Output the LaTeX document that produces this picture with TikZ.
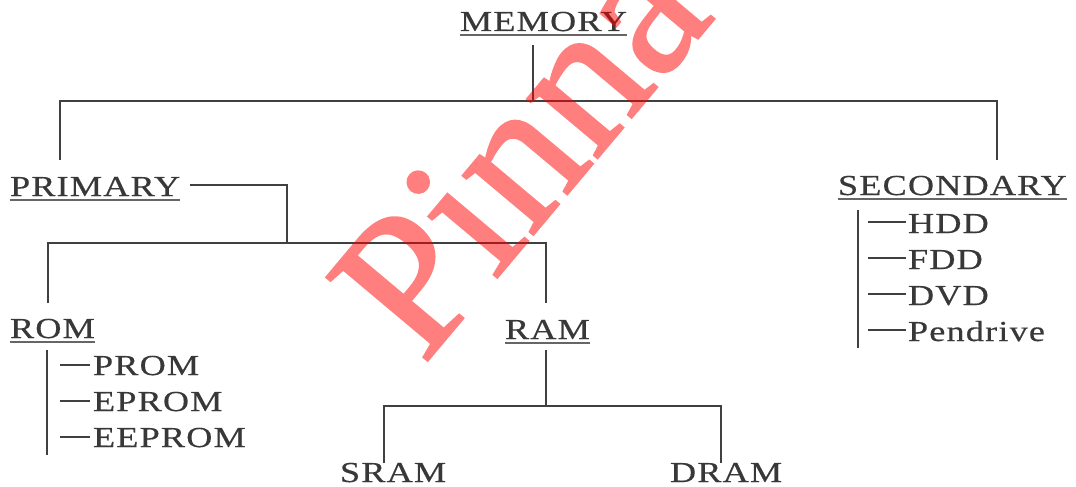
\documentclass[tikz,border=0pt]{standalone}
\usepackage{fontspec}
\setmainfont{Liberation Serif}
\newfontfamily\labelfont[FakeStretch=1.25,LetterSpace=4,FakeBold=0.4]{Liberation Serif}
\newfontfamily\markfont[FakeBold=1.2]{Liberation Serif}
\begin{document}
\begin{tikzpicture}[x=1pt,y=-1pt,
  lbl/.style={anchor=base west,inner sep=0pt,outer sep=0pt,text=black!78,
    font=\labelfont\fontsize{29}{29}\selectfont},
  wire/.style={draw=black!75,line width=1.8pt},
  uline/.style={draw=black!60,line width=1.4pt}]
\useasboundingbox (0,0) rectangle (1076,487);
\clip (0,0) rectangle (1076,487);

% headings (underlined)
\node[lbl] (memory) at (460,31) {MEMORY};
\node[lbl] (primary) at (10,196) {PRIMARY};
\node[lbl] (secondary) at (838,195) {SECONDARY};
\node[lbl] (rom) at (10,338) {ROM};
\node[lbl] (ram) at (505,339) {RAM};
\foreach \n in {memory,primary,secondary,rom,ram}
  \draw[uline] ([yshift=-4pt]\n.base west) -- ([yshift=-4pt]\n.base east);

% leaves
\node[lbl] (sram) at (340,482) {SRAM};
\node[lbl] (dram) at (670,482) {DRAM};
\node[lbl] (prom) at (93,375) {PROM};
\node[lbl] (eprom) at (93,411) {EPROM};
\node[lbl] (eeprom) at (93,447) {EEPROM};
\node[lbl] (hdd) at (908,233) {HDD};
\node[lbl] (fdd) at (908,269) {FDD};
\node[lbl] (dvd) at (908,305) {DVD};
\node[lbl] (pen) at (908,341) {Pendrive};

% junction and end points of the tree
\coordinate (memfoot) at (533,45);
\coordinate (top) at (533,101);
\coordinate (primtop) at (60,160);
\coordinate (sectop) at (997,160);
\coordinate (primout) at (190,185);
\coordinate (pbus) at (287,243);
\coordinate (romtop) at (48,303);
\coordinate (ramtop) at (546,303);
\coordinate (ramfoot) at (546,350);
\coordinate (rbus) at (546,406);
\coordinate (sramtop) at (384,463);
\coordinate (dramtop) at (721,463);

% memory -> primary / secondary
\draw[wire] (memfoot) -- (top);
\draw[wire] (primtop) |- (top) -| (sectop);

% primary -> rom / ram
\draw[wire] (primout) -| (pbus);
\draw[wire] (romtop) |- (pbus) -| (ramtop);

% ram -> sram / dram
\draw[wire] (ramfoot) -- (rbus);
\draw[wire] (sramtop) |- (rbus) -| (dramtop);

% rom list
\draw[wire] (47,350) -- (47,455);
\foreach \n in {prom,eprom,eeprom}
  \draw[wire] ([yshift=10pt]\n.base west) ++(-33pt,0) -- ++(30pt,0);

% secondary list
\draw[wire] (858,210) -- (858,348);
\foreach \n in {hdd,fdd,dvd,pen}
  \draw[wire] ([yshift=11pt]\n.base west) ++(-40pt,0) -- ++(38pt,0);

% watermark, drawn as one translucent layer
\begin{scope}[transparency group,opacity=0.5]
\node[anchor=base west,inner sep=0pt,rotate=50,text=red,
  font=\markfont\fontsize{200}{200}\selectfont] (mark) at (423,366) {Pinnacle};
\end{scope}
\end{tikzpicture}
\end{document}
